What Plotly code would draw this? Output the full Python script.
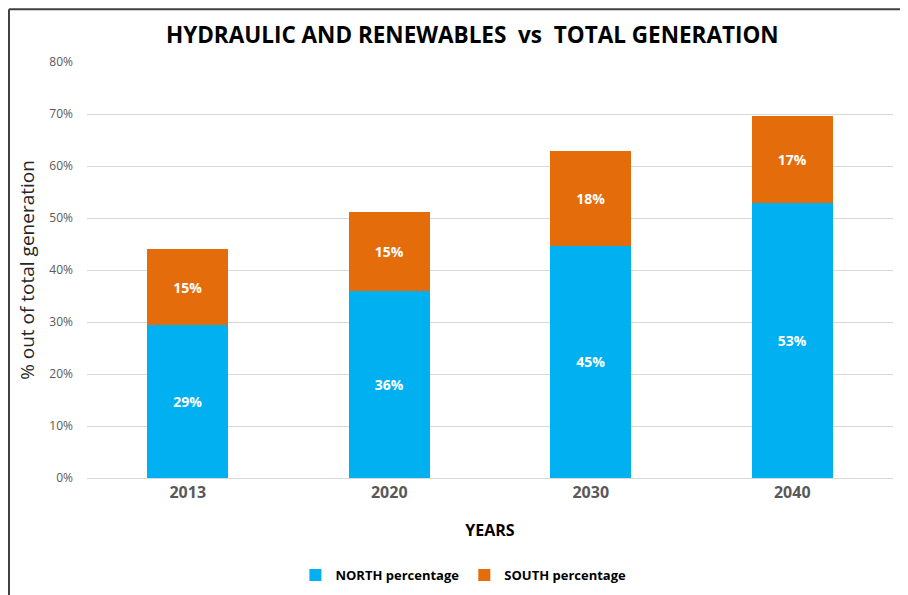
import plotly.graph_objects as go

years = ["2013", "2020", "2030", "2040"]
north = [29.4, 35.9, 44.7, 52.8]
south = [14.6, 15.3, 18.2, 16.9]

FONT = "Open Sans"

fig = go.Figure()
fig.add_trace(go.Bar(x=years, y=north, name="<b>NORTH percentage</b>",
                     marker=dict(color="#00B0F0", line=dict(width=0)),
                     texttemplate="<b>%{y:.0f}%</b>", textposition="inside",
                     insidetextanchor="middle",
                     textfont=dict(color="white", size=14, family=FONT)))
fig.add_trace(go.Bar(x=years, y=south, name="<b>SOUTH percentage</b>",
                     marker=dict(color="#E46C0A", line=dict(width=0)),
                     texttemplate="<b>%{y:.0f}%</b>", textposition="inside",
                     insidetextanchor="middle",
                     textfont=dict(color="white", size=14, family=FONT)))

# frame lines (left and top) around the chart
border = dict(type="line", xref="paper", yref="paper",
              line=dict(color="#404040", width=2))
fig.add_shape(x0=-0.0968, x1=-0.0968, y0=1.127, y1=-0.3, **border)
fig.add_shape(x0=-0.0968, x1=1.03, y0=1.127, y1=1.127, **border)

# page has an 8px body margin, so the figure is sized/offset to compensate
fig.update_layout(
    barmode="stack",
    bargap=0.6,
    width=900, height=587,
    margin=dict(l=79, r=15, t=54, b=117, autoexpand=False),
    paper_bgcolor="white", plot_bgcolor="white",
    font=dict(family=FONT, color="#595959"),
    title=dict(text="<b>HYDRAULIC AND RENEWABLES  vs  TOTAL GENERATION</b>",
               x=0.478, xref="paper", xanchor="center",
               y=1 - 27 / 587, yref="container", yanchor="middle",
               font=dict(size=22.5, color="black", family=FONT)),
    xaxis=dict(
        title=dict(text="<b>YEARS</b>", font=dict(size=16, color="black"), standoff=22),
        tickfont=dict(size=16, color="#595959"),
        tickprefix="<b>", ticksuffix="</b>",
        showline=True, linecolor="#D9D9D9", linewidth=1,
        ticks="", automargin=False,
    ),
    yaxis=dict(
        title=dict(text="% out of total generation", font=dict(size=19, color="#262626"),
                   standoff=9),
        range=[0, 80], dtick=10, ticksuffix="%",
        tickfont=dict(size=12, color="#595959"),
        ticklabelstandoff=13,
        gridcolor="#D9D9D9", gridwidth=1,
        zeroline=False, ticks="", automargin=False,
    ),
    legend=dict(orientation="h", x=0.467, xanchor="center", y=-0.233, yanchor="middle",
                font=dict(size=13, color="black"), traceorder="normal",
                itemwidth=30),
    showlegend=True,
)

fig.write_html("out.html")
